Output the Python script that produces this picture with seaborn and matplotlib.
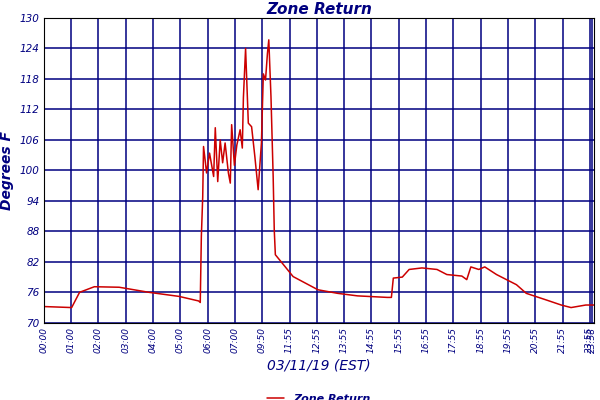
import matplotlib
matplotlib.use("Agg")
import matplotlib.pyplot as plt
import seaborn as sns
import pandas as pd

# slot positions (one slot per tick label) and temperatures
slot = [0, 1.02, 1.31, 1.85, 2.76, 3.85, 4.95, 5.67, 5.73, 5.77, 5.82, 5.85, 5.92, 5.96,
        6.07, 6.22, 6.28, 6.37, 6.46, 6.55, 6.64, 6.76, 6.83, 6.88, 6.98, 7.07, 7.19,
        7.27, 7.31, 7.39, 7.49, 7.61, 7.73, 7.85, 7.97, 8.04, 8.12, 8.19, 8.24, 8.32,
        8.40, 8.44, 8.48, 8.83, 9.13, 10.04, 10.76, 11.49, 12.58, 12.73, 12.80, 13.13,
        13.38, 13.85, 14.4, 14.76, 15.31, 15.49, 15.64, 15.93, 16.15, 16.58, 17.31,
        17.67, 18.4, 18.95, 19.31, 19.85, 20.15]
temp = [73.2, 73.0, 76.0, 77.1, 77.0, 76.0, 75.2, 74.3, 74.0, 87.0, 94.8, 104.7, 101.5, 99.5,
        103.4, 98.8, 108.4, 97.8, 106.0, 101.5, 105.4, 99.5, 97.5, 109.0, 101.0, 105.0, 108.0,
        104.4, 114.3, 124.0, 109.3, 108.6, 102.7, 96.2, 105.4, 119.0, 117.8, 123.0, 125.7, 114.5,
        98.8, 88.3, 83.4, 81.1, 79.1, 76.5, 75.8, 75.3, 75.0, 75.0, 78.8, 79.0,
        80.5, 80.8, 80.5, 79.5, 79.2, 78.5, 81.0, 80.5, 81.0, 79.5, 77.5,
        75.8, 74.5, 73.5, 73.0, 73.5, 73.5]

tick_pos = list(range(20)) + [20.0, 20.08]
tick_labels = ["00:00", "01:00", "02:00", "03:00", "04:00", "05:00", "06:00", "07:00",
               "09:50", "11:55", "12:55", "13:55", "14:55", "15:55", "16:55", "17:55",
               "18:55", "19:55", "20:55", "21:55", "23:55", "23:58"]
y_ticks = list(range(70, 131, 6))

navy = "#000080"
df = pd.DataFrame({"slot": slot, "temp": temp})

sns.set_style("white")
fig, ax = plt.subplots(figsize=(6, 4), dpi=100)
sns.lineplot(data=df, x="slot", y="temp", color="#cc0000", linewidth=1.1,
             label="Zone Return", ax=ax)

ax.set_xlim(0, 20.15)
ax.set_ylim(70, 130)
ax.set_xticks(tick_pos)
ax.set_xticklabels(tick_labels, rotation=90, color=navy, fontsize=6.5, style="italic")
ax.set_yticks(y_ticks)
ax.set_yticklabels([str(v) for v in y_ticks], color=navy, fontsize=7.5, style="italic")
ax.grid(True, color=navy, linewidth=1.1)
ax.tick_params(length=0, pad=3)
for s in ax.spines.values():
    s.set_color("black")
    s.set_linewidth(0.8)

ax.set_title("Zone Return", color=navy, fontsize=11, fontweight="bold", style="italic", pad=3)
ax.set_xlabel("03/11/19 (EST)", color=navy, fontsize=10, style="italic", labelpad=4)
ax.set_ylabel("Degrees F", color=navy, fontsize=10, fontweight="bold", style="italic", labelpad=4)

leg = ax.legend(loc="upper center", bbox_to_anchor=(0.5, -0.2), frameon=False,
                fontsize=8, handlelength=1.5)
for t in leg.get_texts():
    t.set_color(navy)
    t.set_fontstyle("italic")
    t.set_fontweight("bold")

plt.subplots_adjust(left=0.073, right=0.99, top=0.955, bottom=0.193)
fig.savefig("out.png")
